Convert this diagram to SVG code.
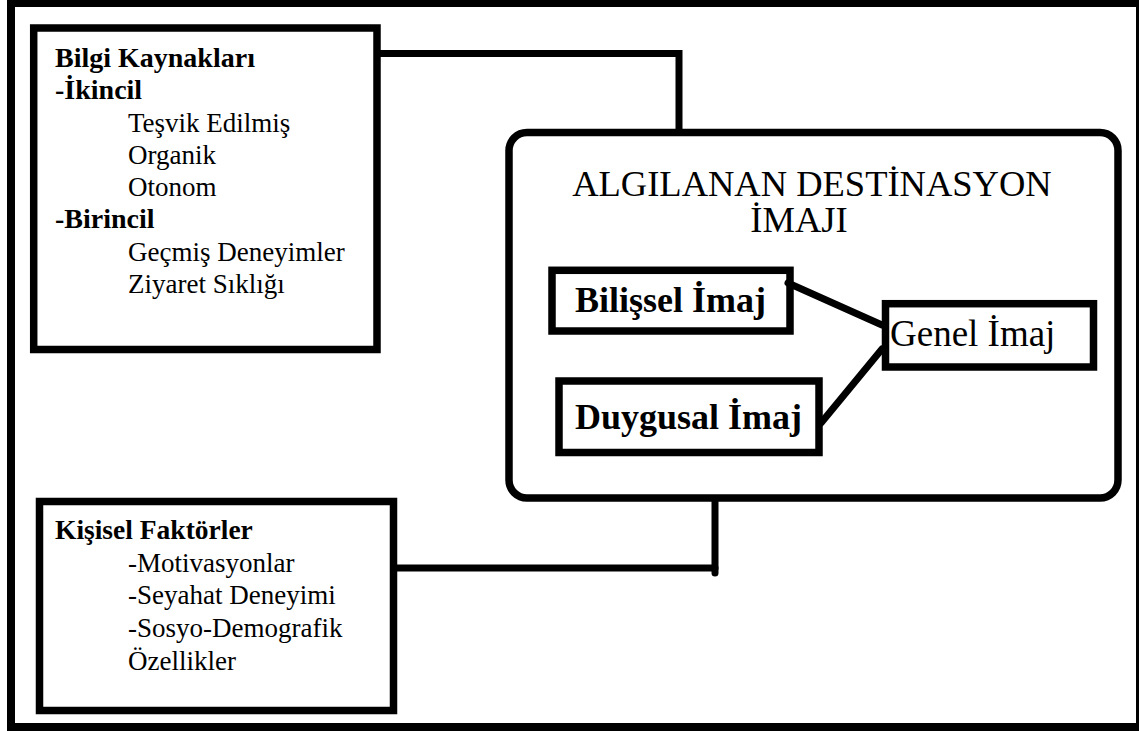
<svg xmlns="http://www.w3.org/2000/svg" width="1139" height="731" viewBox="0 0 1139 731">
  <style>
    .box { fill: #ffffff; stroke: #000000; stroke-width: 7.5; }
    .link { fill: none; stroke: #000000; stroke-width: 7; stroke-linecap: round; stroke-linejoin: miter; }
    text { font-family: "Liberation Serif", "Times New Roman", serif; fill: #000000; }
    .list { font-size: 27px; }
    .head { font-size: 28px; font-weight: bold; }
    .title { font-size: 36.5px; }
    .inner { font-size: 36px; font-weight: bold; }
    .plain { font-size: 37px; }
  </style>

  <rect x="0" y="0" width="1139" height="731" fill="#ffffff"/>
  <!-- outer frame -->
  <rect id="frame" x="11" y="3" width="1129" height="724" fill="none" stroke="#000000" stroke-width="8"/>

  <!-- information sources -->
  <g id="bilgi-kaynaklari">
    <rect class="box" x="33.7" y="28" width="343.3" height="321.5"/>
    <text class="head" x="55" y="66.5">Bilgi Kaynakları</text>
    <text class="head" x="55" y="99">-İkincil</text>
    <text class="list" x="128" y="131.5">Teşvik Edilmiş</text>
    <text class="list" x="128" y="163.5">Organik</text>
    <text class="list" x="128" y="195.5">Otonom</text>
    <text class="head" x="55" y="228">-Birincil</text>
    <text class="list" x="128" y="260.5">Geçmiş Deneyimler</text>
    <text class="list" x="128" y="292.5">Ziyaret Sıklığı</text>
  </g>

  <!-- personal factors -->
  <g id="kisisel-faktorler">
    <rect class="box" x="39.5" y="501.5" width="354" height="209"/>
    <text class="head" x="55" y="539" style="font-size:27.5px">Kişisel Faktörler</text>
    <text class="list" x="128" y="571.5">-Motivasyonlar</text>
    <text class="list" x="128" y="604">-Seyahat Deneyimi</text>
    <text class="list" x="128" y="636.5">-Sosyo-Demografik</text>
    <text class="list" x="128" y="669.5">Özellikler</text>
  </g>

  <!-- perceived destination image -->
  <g id="algilanan-imaj">
    <rect class="box" x="509" y="132.5" width="609" height="365.5" rx="18" ry="18"/>
    <text class="title" text-anchor="middle">
      <tspan x="816.5" y="196">ALGILANAN DESTİNASYON</tspan>
      <tspan x="799" y="231.5">İMAJI</tspan>
    </text>
  </g>

  <g id="bilissel-imaj">
    <rect class="box" x="552" y="270.3" width="238" height="60.7"/>
    <text class="inner" x="575" y="311.5">Bilişsel İmaj</text>
  </g>

  <g id="duygusal-imaj">
    <rect class="box" x="559" y="381" width="260" height="71.5"/>
    <text class="inner" x="575" y="428.5">Duygusal İmaj</text>
  </g>

  <g id="genel-imaj">
    <rect class="box" x="885.5" y="303.7" width="208" height="63.3"/>
    <text class="plain" x="890" y="345.5">Genel İmaj</text>
  </g>

  <!-- connectors, drawn over the box fills -->
  <g id="connectors">
    <path class="link" d="M381 53.5 H679 V129"/>
    <path class="link" d="M397 568 H715"/>
    <path class="link" d="M715 501 V573"/>
    <path class="link" d="M788 283 L882 325"/>
    <path class="link" d="M821 423 L882 349"/>
  </g>
</svg>
